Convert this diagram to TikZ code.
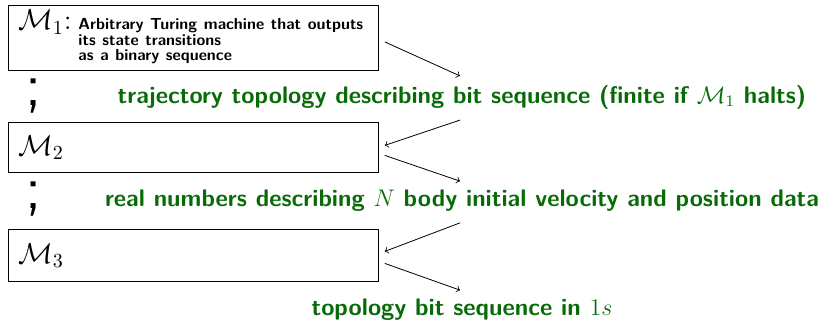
\documentclass[tikz,border=0pt]{standalone}
\usepackage{amsmath}
\usetikzlibrary{positioning}

\definecolor{darkgreen}{rgb}{0.03,0.42,0.03}

\tikzset{
  mbox/.style={draw, anchor=north west, minimum width=185pt, text width=175pt,
    inner xsep=5pt, inner ysep=2pt, align=left},
  flowtext/.style={text=darkgreen, font=\large\sffamily\bfseries},
  sep/.style={font=\fontsize{31}{31}\selectfont\sffamily},
}

\begin{document}
\begin{tikzpicture}[x=0.5pt, y=-0.5pt, >=to]
            \useasboundingbox (0,0) rectangle (821,323);
            % machines
            \node[mbox, minimum height=32.5pt] (m1) at (8,5)
              {\Large$\mathcal{M}_1$:\ {\footnotesize\sffamily\bfseries\def\arraystretch{0.8}%
                \begin{tabular}[t]{@{}l@{}}
                Arbitrary Turing machine that outputs\\
                its state transitions\\
                as a binary sequence\end{tabular}}};
            \node[mbox, minimum height=25pt] (m2) at (8,122) {\Large$\mathcal{M}_2$};
            \node[mbox, minimum height=26pt] (m3) at (8,229) {\Large$\mathcal{M}_3$};
            \node[sep] (s1) at (34,96) {;};
            \node[sep] (s2) at (34,199) {;};
            % data passed between them
            \node[flowtext] (t1) at (462,97) {trajectory topology describing bit sequence (finite if $\mathcal{M}_1$ halts)};
            \node[flowtext] (t2) at (462,201) {real numbers describing $N$ body initial velocity and position data};
            \node[flowtext] (t3) at (462,310) {topology bit sequence in $1s$};
            \draw[->] ([xshift=3pt,yshift=-2pt]m1.east) -- ([xshift=-1pt,yshift=1pt]t1.north);
            \draw[->] ([xshift=-1pt,yshift=-2pt]t1.south) -- ([xshift=3pt,yshift=1pt]m2.east);
            \draw[->] ([xshift=3pt,yshift=-4pt]m2.east) -- ([xshift=-1pt,yshift=1pt]t2.north);
            \draw[->] ([xshift=-1pt,yshift=-2pt]t2.south) -- ([xshift=3pt,yshift=2pt]m3.east);
            \draw[->] ([xshift=3pt,yshift=-4pt]m3.east) -- ([xshift=-1pt,yshift=1pt]t3.north);
        \end{tikzpicture}
\end{document}
